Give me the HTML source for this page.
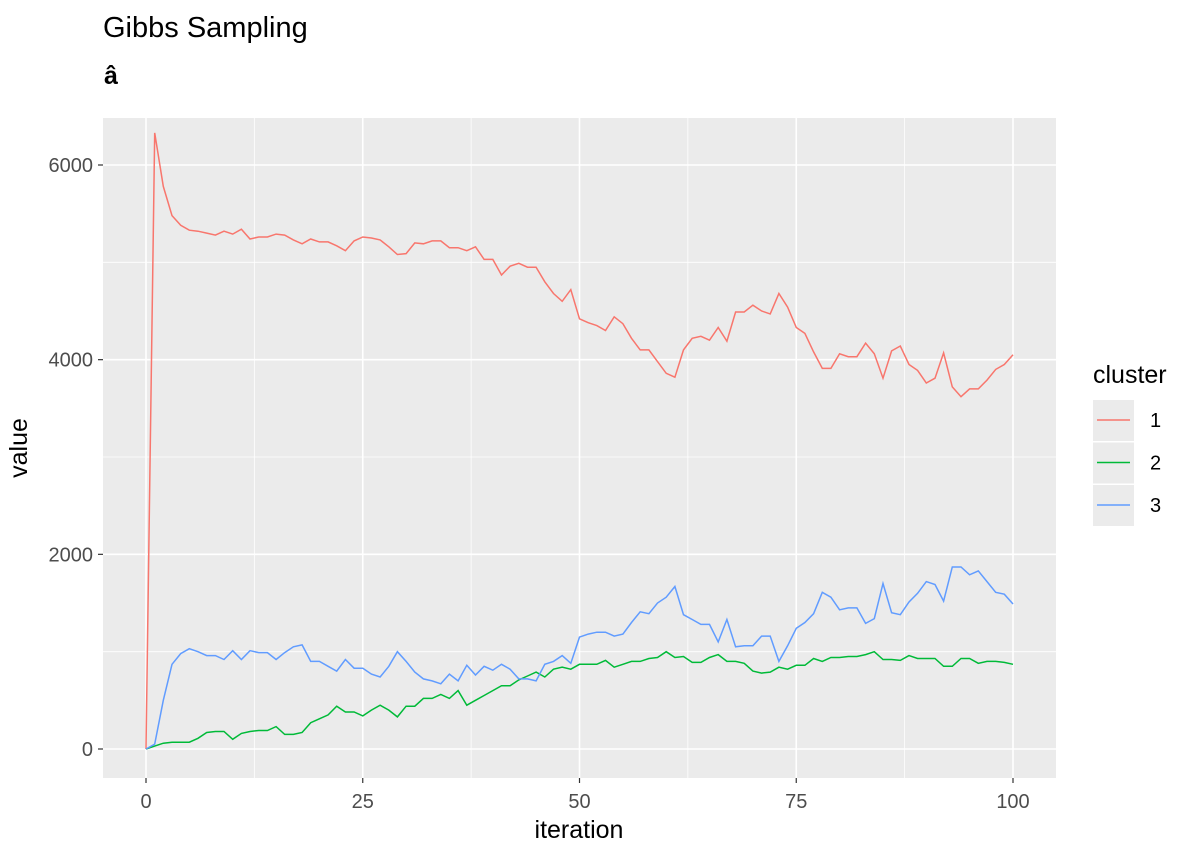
<!DOCTYPE html>
<html><head><meta charset="utf-8"><style>
body{margin:0;background:#fff;font-family:"Liberation Sans",Arial,sans-serif;}
svg text{font-family:"Liberation Sans",Arial,sans-serif;}
</style></head><body>
<svg id="chart" width="1200" height="857" xmlns="http://www.w3.org/2000/svg">
<text x="103" y="37" font-size="29" fill="#000">Gibbs Sampling</text>
<text x="104" y="84" font-size="25" font-weight="bold" fill="#000">â</text>
<rect x="103" y="118" width="953" height="660" fill="#ebebeb"/>
<g id="grid"></g>
<g id="series"></g>
<g id="axes"></g>
<text x="579" y="838" font-size="25" text-anchor="middle" fill="#000">iteration</text>
<text x="0" y="0" font-size="25" text-anchor="middle" fill="#000" transform="translate(27,448) rotate(-90)">value</text>
<text x="1093" y="383" font-size="25" fill="#000">cluster</text>
<g id="legend"></g>
</svg>
<script>
const iterations = Array.from({length:101},(_, i)=>i);
const cluster1 = [0,6330,5780,5480,5380,5330,5320,5300,5280,5320,5290,5340,5240,5260,5260,5290,5280,5230,5190,5240,5210,5210,5170,5120,5220,5260,5250,5230,5160,5080,5090,5200,5190,5220,5220,5150,5150,5120,5160,5030,5030,4870,4960,4990,4950,4950,4800,4680,4600,4720,4420,4380,4350,4300,4440,4370,4220,4100,4100,3980,3860,3820,4100,4220,4240,4200,4330,4190,4490,4490,4560,4500,4470,4680,4540,4330,4270,4080,3910,3910,4060,4030,4030,4170,4060,3810,4090,4140,3950,3890,3760,3810,4070,3720,3620,3700,3700,3790,3900,3950,4050];
const cluster2 = [0,30,60,70,70,70,110,170,180,180,100,160,180,190,190,230,150,150,170,270,310,350,440,380,380,340,400,450,400,330,440,440,520,520,560,520,600,450,500,550,600,650,650,710,750,790,740,820,840,820,870,870,870,910,840,870,900,900,930,940,1000,940,950,890,890,940,970,900,900,880,800,780,790,840,820,860,860,930,900,940,940,950,950,970,1000,920,920,910,960,930,930,930,850,850,930,930,880,900,900,890,870];
const cluster3 = [0,50,500,870,980,1030,1000,960,960,920,1010,920,1010,990,990,920,990,1050,1070,900,900,850,800,920,830,830,770,740,850,1000,900,790,720,700,670,770,700,860,760,850,810,870,820,720,720,700,870,900,960,880,1150,1180,1200,1200,1160,1180,1300,1410,1390,1500,1560,1670,1380,1330,1280,1280,1100,1330,1050,1060,1060,1160,1160,900,1060,1240,1300,1390,1610,1560,1430,1450,1450,1290,1340,1700,1400,1380,1510,1600,1720,1690,1520,1870,1870,1790,1830,1720,1610,1590,1490];
const xTicks = [0,25,50,75,100];
const yTicks = [0,2000,4000,6000];
const seriesNames = ["1","2","3"];
const seriesColors = ["#F8766D","#00BA38","#619CFF"];

const NS="http://www.w3.org/2000/svg";
const x = v => 146 + v*(1013-146)/100;
const y = v => 749 - v*(749-165)/6000;
function mk(tag, attrs, parent){const e=document.createElementNS(NS,tag);for(const k in attrs)e.setAttribute(k,attrs[k]);parent.appendChild(e);return e;}
const grid=document.getElementById('grid'), axes=document.getElementById('axes'), ser=document.getElementById('series'), leg=document.getElementById('legend');
for(let i=0;i<xTicks.length-1;i++){const m=(xTicks[i]+xTicks[i+1])/2;
 const l=mk('line',{x1:x(m),x2:x(m),y1:118,y2:778,stroke:'#fff','stroke-width':0.8},grid);
 
 }
for(let i=0;i<yTicks.length-1;i++){const m=(yTicks[i]+yTicks[i+1])/2;
 const l=mk('line',{x1:103,x2:1056,y1:y(m),y2:y(m),stroke:'#fff','stroke-width':0.8},grid);
 
 }
xTicks.forEach(t=>{
 const l=mk('line',{x1:x(t),x2:x(t),y1:118,y2:778,stroke:'#fff','stroke-width':1.6},grid);
 
 
 const tk=mk('line',{x1:x(t),x2:x(t),y1:778,y2:783,stroke:'#333','stroke-width':1.2},axes);
 
 
 const tx=mk('text',{x:x(t),y:808,'font-size':20,'text-anchor':'middle',fill:'#4d4d4d'},axes);
 tx.textContent=t;
 
 
});
yTicks.forEach(t=>{
 const l=mk('line',{x1:103,x2:1056,y1:y(t),y2:y(t),stroke:'#fff','stroke-width':1.6},grid);
 
 
 const tk=mk('line',{x1:98,x2:103,y1:y(t),y2:y(t),stroke:'#333','stroke-width':1.2},axes);
 
 
 const tx=mk('text',{x:93,y:y(t)+7,'font-size':20,'text-anchor':'end',fill:'#4d4d4d'},axes);
 tx.textContent=t;
 
 
});
[cluster1,cluster2,cluster3].forEach((d,si)=>{
 const pts=d.map((v,i)=>x(iterations[i]).toFixed(1)+','+y(v).toFixed(1)).join(' ');
 const p=mk('polyline',{points:pts,fill:'none',stroke:seriesColors[si],'stroke-width':1.5},ser);
 
 
 const cy=420+si*42.5;
 const bg=mk('rect',{x:1093,y:cy-20,width:41,height:41,fill:'#ebebeb'},leg);
 
 
 const ll=mk('line',{x1:1097,x2:1130,y1:cy,y2:cy,stroke:seriesColors[si],'stroke-width':1.5},leg);
 
 
 const lt=mk('text',{x:1150,y:cy+7,'font-size':20,fill:'#000'},leg);
 lt.textContent=seriesNames[si];
 
 
});
</script>
</body></html>
